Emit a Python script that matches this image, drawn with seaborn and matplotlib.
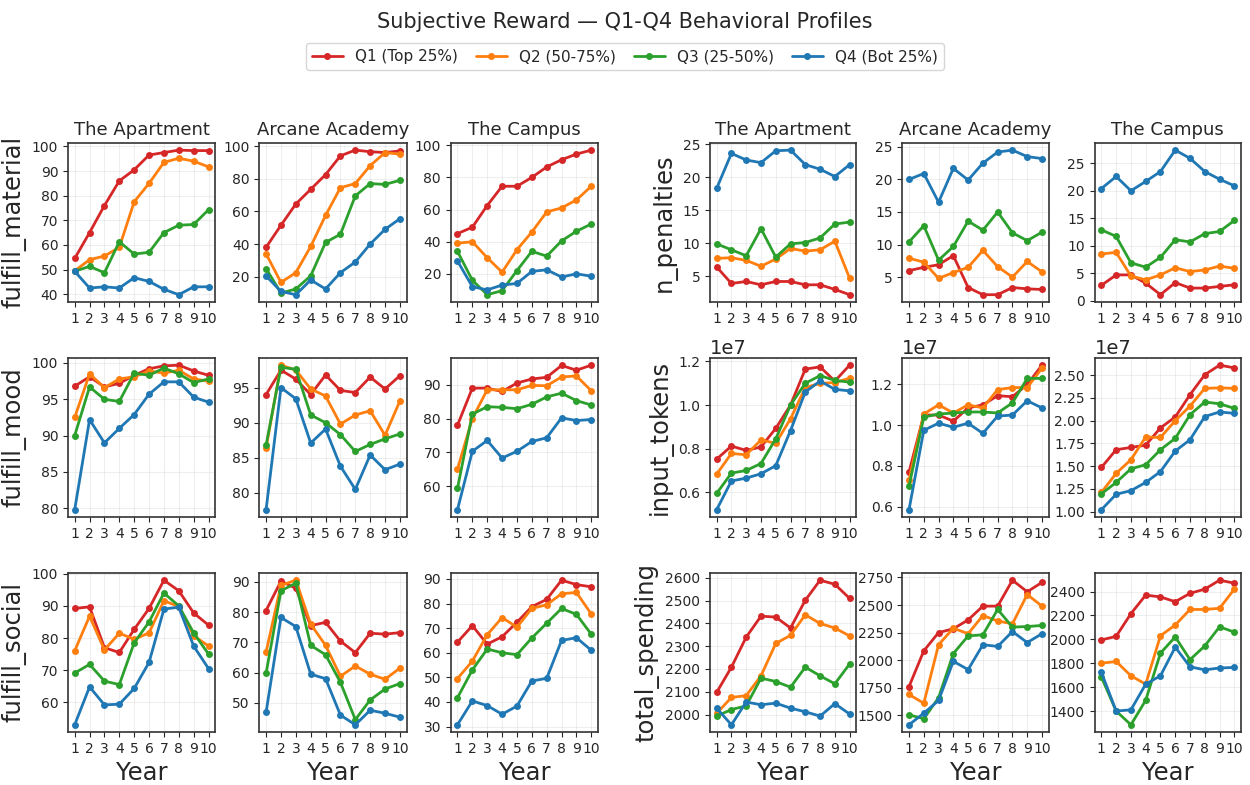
import pandas as pd
import seaborn as sns
import matplotlib.pyplot as plt
from matplotlib.lines import Line2D
from matplotlib.ticker import MaxNLocator

years = list(range(1, 11))
quartiles = ["Q1 (Top 25%)", "Q2 (50-75%)", "Q3 (25-50%)", "Q4 (Bot 25%)"]
colors = ["#d62728", "#ff7f0e", "#2ca02c", "#1f77b4"]
envs = ["The Apartment", "Arcane Academy", "The Campus"]

# each list: Q1, Q2, Q3, Q4 over years 1..10
material_apartment = [
    [54.5, 65, 76, 86, 90.5, 96.5, 97.5, 98.5, 98.3, 98.3],
    [49.5, 54, 55.5, 59, 77.5, 85, 93.5, 95.2, 94, 91.7],
    [49.3, 51.3, 48.7, 61.3, 56.3, 57, 65, 68, 68.3, 74.3],
    [49.3, 42.5, 43, 42.5, 46.7, 45.2, 42, 39.8, 43, 43],
]
material_arcane = [
    [38, 51.5, 64.5, 73.5, 82.5, 94, 97.5, 96.5, 96, 97],
    [34, 16.5, 22.5, 38.5, 57.5, 74.5, 77, 88, 96, 95],
    [25, 10, 12.5, 20.5, 41, 46, 69.5, 77, 76.5, 79],
    [20.5, 11, 9, 18, 12.5, 22.5, 29, 40, 49, 55.5],
]
material_campus = [
    [45, 49, 62.5, 74.5, 74.5, 80, 86.5, 91, 94.5, 97],
    [39, 40, 30, 21, 35, 46, 58.5, 61, 66, 74.5],
    [34, 16, 7, 9.5, 22, 34, 31, 40.5, 46.5, 51],
    [28, 12, 10, 13, 14, 21.5, 22.5, 18, 20, 18.5],
]

mood_apartment = [
    [96.8, 98.1, 96.7, 97.2, 98.3, 99.2, 99.6, 99.7, 98.9, 98.3],
    [92.5, 98.5, 96.6, 97.8, 98.1, 98.9, 98.6, 99.0, 97.8, 97.5],
    [90.0, 96.7, 95.0, 94.7, 98.6, 98.3, 99.3, 98.5, 97.3, 97.8],
    [79.8, 92.2, 89.0, 91.0, 92.9, 95.7, 97.4, 97.4, 95.3, 94.6],
]
mood_arcane = [
    [94, 97.5, 96.2, 94, 96.8, 94.6, 94.3, 96.5, 94.8, 96.7],
    [86.4, 98.2, 97.5, 94.8, 93.8, 89.8, 91.1, 91.7, 88.2, 93.1],
    [86.8, 97.9, 97.6, 91.1, 90, 88.3, 85.9, 86.9, 87.7, 88.4],
    [77.6, 95, 93.4, 87.1, 89.1, 83.8, 80.5, 85.4, 83.3, 84.1],
]
mood_campus = [
    [78, 89, 89, 88, 90.5, 91.7, 92.2, 95.7, 94.3, 95.8],
    [65, 80, 88.5, 88.5, 88.5, 89.8, 89.7, 92.3, 92.6, 88.2],
    [59.3, 81.3, 83.5, 83.3, 82.9, 84.2, 86.4, 87.5, 85.3, 84],
    [53, 70.3, 73.5, 68.3, 70.3, 73.2, 74.3, 80.2, 79.4, 79.7],
]

social_apartment = [
    [89.2, 89.7, 77, 75.5, 82.7, 89.2, 98, 94.7, 87.8, 84],
    [76, 86.8, 76.3, 81.5, 79.6, 81.6, 91.6, 89.8, 80.7, 77.5],
    [69.1, 71.8, 66.6, 65.5, 78.5, 85, 94, 90, 81.6, 75],
    [53, 64.8, 59.2, 59.4, 64.3, 72.4, 89, 89.6, 77.5, 70.5],
]
social_arcane = [
    [80.5, 90.2, 87.8, 75.5, 76.6, 70.4, 66.6, 73, 72.7, 73.2],
    [66.8, 88.8, 90.5, 76, 69, 58.8, 62.2, 59.5, 57.8, 61.5],
    [59.8, 87, 89.5, 69, 65.9, 56.8, 44.5, 51, 54.6, 56.4],
    [46.9, 78.2, 75.2, 59.5, 58, 46, 42.8, 47.6, 46.6, 45.3],
]
social_campus = [
    [64.3, 71, 63.5, 66.5, 72.4, 78.7, 81.7, 89.5, 87.7, 86.8],
    [49.5, 56.6, 67.3, 74.3, 70.4, 78, 79.5, 84, 84.5, 75.7],
    [41.7, 53, 61.5, 60, 59.2, 66, 72, 78, 75.6, 67.5],
    [30.7, 40.4, 38.5, 35, 38.3, 48.5, 49.6, 65, 66.1, 61],
]

penalties_apartment = [
    [6.4, 3.9, 4.2, 3.7, 4.2, 4.2, 3.7, 3.7, 3.0, 2.2],
    [7.7, 7.8, 7.4, 6.5, 7.6, 9.2, 8.8, 9.0, 10.3, 4.7],
    [9.9, 9.0, 8.1, 12.2, 7.9, 9.9, 10.1, 10.8, 12.9, 13.2],
    [18.3, 23.6, 22.6, 22.2, 24.0, 24.1, 21.9, 21.2, 20.1, 21.9],
]
penalties_arcane = [
    [6.0, 6.5, 6.9, 8.3, 3.4, 2.3, 2.3, 3.4, 3.2, 3.1],
    [7.9, 7.3, 4.8, 5.7, 6.5, 9.1, 6.6, 5.0, 7.4, 5.8],
    [10.4, 12.9, 7.6, 9.7, 13.6, 12.2, 15.0, 11.8, 10.6, 11.9],
    [20.0, 20.9, 16.5, 21.7, 19.9, 22.5, 24.2, 24.5, 23.5, 23.2],
]
penalties_campus = [
    [2.8, 4.7, 4.7, 3.2, 1.1, 3.3, 2.3, 2.3, 2.6, 2.9],
    [8.5, 8.8, 4.5, 3.8, 4.7, 6.0, 5.3, 5.6, 6.3, 5.9],
    [12.9, 11.7, 6.9, 6.1, 7.9, 11.1, 10.7, 12.2, 12.6, 14.6],
    [20.4, 22.6, 20.0, 21.7, 23.5, 27.4, 25.9, 23.5, 22.1, 20.9],
]

# input tokens in units of 1e7
tokens_apartment = [
    [0.752, 0.812, 0.792, 0.808, 0.893, 1.000, 1.165, 1.175, 1.110, 1.183],
    [0.683, 0.778, 0.772, 0.840, 0.825, 0.937, 1.080, 1.100, 1.103, 1.123],
    [0.595, 0.688, 0.700, 0.732, 0.845, 1.000, 1.100, 1.135, 1.113, 1.105],
    [0.520, 0.652, 0.665, 0.685, 0.722, 0.883, 1.060, 1.110, 1.072, 1.065],
]
tokens_arcane = [
    [0.770, 1.050, 1.050, 1.020, 1.085, 1.100, 1.145, 1.140, 1.200, 1.295],
    [0.730, 1.055, 1.100, 1.060, 1.100, 1.085, 1.175, 1.185, 1.185, 1.280],
    [0.700, 1.040, 1.055, 1.060, 1.065, 1.065, 1.060, 1.110, 1.230, 1.230],
    [0.585, 0.975, 1.010, 0.990, 1.010, 0.960, 1.045, 1.050, 1.120, 1.085],
]
tokens_campus = [
    [1.485, 1.680, 1.705, 1.730, 1.920, 2.040, 2.285, 2.505, 2.610, 2.580],
    [1.210, 1.420, 1.570, 1.820, 1.815, 2.000, 2.160, 2.355, 2.360, 2.355],
    [1.195, 1.320, 1.470, 1.515, 1.680, 1.805, 2.065, 2.205, 2.185, 2.135],
    [1.020, 1.190, 1.230, 1.320, 1.440, 1.665, 1.790, 2.045, 2.095, 2.080],
]

spending_apartment = [
    [2097, 2208, 2340, 2432, 2428, 2380, 2502, 2590, 2572, 2510],
    [2005, 2075, 2083, 2170, 2312, 2348, 2438, 2400, 2380, 2345],
    [1993, 2022, 2038, 2160, 2145, 2120, 2208, 2170, 2135, 2222],
    [2028, 1955, 2055, 2043, 2050, 2028, 2012, 1993, 2048, 2002],
]
spending_arcane = [
    [1760, 2085, 2250, 2285, 2365, 2490, 2490, 2725, 2620, 2705],
    [1690, 1610, 2140, 2290, 2240, 2405, 2355, 2330, 2595, 2490],
    [1505, 1470, 1660, 2060, 2220, 2230, 2460, 2300, 2305, 2315],
    [1415, 1520, 1635, 1990, 1915, 2140, 2125, 2260, 2160, 2240],
]
spending_campus = [
    [1995, 2025, 2215, 2370, 2355, 2315, 2385, 2420, 2495, 2470],
    [1800, 1815, 1695, 1625, 2030, 2120, 2250, 2250, 2260, 2420],
    [1685, 1400, 1285, 1490, 1885, 2020, 1830, 1945, 2105, 2060],
    [1725, 1400, 1410, 1625, 1695, 1935, 1770, 1745, 1760, 1765],
]

left_metrics = {
    "fulfill_material": [material_apartment, material_arcane, material_campus],
    "fulfill_mood": [mood_apartment, mood_arcane, mood_campus],
    "fulfill_social": [social_apartment, social_arcane, social_campus],
}
right_metrics = {
    "n_penalties": [penalties_apartment, penalties_arcane, penalties_campus],
    "input_tokens": [[[v * 1e7 for v in s] for s in t]
                     for t in (tokens_apartment, tokens_arcane, tokens_campus)],
    "total_spending": [spending_apartment, spending_arcane, spending_campus],
}


def to_frame(series):
    rows = []
    for q, vals in zip(quartiles, series):
        for y, v in zip(years, vals):
            rows.append({"Year": y, "value": v, "Quartile": q})
    return pd.DataFrame(rows)


sns.set_style("ticks")
plt.rcParams["font.family"] = ["DejaVu Sans"]
palette = dict(zip(quartiles, colors))

fig = plt.figure(figsize=(12.5, 7.85), dpi=100)
gs_left = fig.add_gridspec(3, 3, left=0.0544, right=0.4784, top=0.818, bottom=0.0675,
                           wspace=0.30, hspace=0.352)
gs_right = fig.add_gridspec(3, 3, left=0.568, right=0.9928, top=0.818, bottom=0.0675,
                            wspace=0.315, hspace=0.352)

for gs, metrics in ((gs_left, left_metrics), (gs_right, right_metrics)):
    for r, (metric, panels) in enumerate(metrics.items()):
        for c, series in enumerate(panels):
            ax = fig.add_subplot(gs[r, c])
            df = to_frame(series)
            sns.lineplot(data=df, x="Year", y="value", hue="Quartile",
                         palette=palette, marker="o", markersize=5,
                         markeredgewidth=0, linewidth=2, legend=False, ax=ax)
            ax.set_xticks(years)
            ax.yaxis.set_major_locator(MaxNLocator(nbins=7, steps=[1, 2, 2.5, 5, 10]))
            ax.tick_params(labelsize=10)
            ax.grid(True, alpha=0.3)
            for s in ax.spines.values():
                s.set_linewidth(1.2)
                s.set_color("#333333")
            if r == 0:
                ax.set_title(envs[c], fontsize=13)
            if c == 0:
                ax.set_ylabel(metric, fontsize=17.5)
            else:
                ax.set_ylabel("")
            if r == 2:
                ax.set_xlabel("Year", fontsize=17.5)
            else:
                ax.set_xlabel("")
            ax.yaxis.get_offset_text().set_fontsize(14)

handles = [Line2D([], [], color=col, marker="o", markersize=4, linewidth=2)
           for col in colors]
fig.legend(handles, quartiles, loc="upper center", ncol=4, fontsize=11,
           bbox_to_anchor=(0.5, 0.955), columnspacing=1.2, handlelength=2.0)
fig.suptitle("Subjective Reward — Q1-Q4 Behavioral Profiles", fontsize=15, y=0.985)

fig.savefig("out.png", dpi=100)
